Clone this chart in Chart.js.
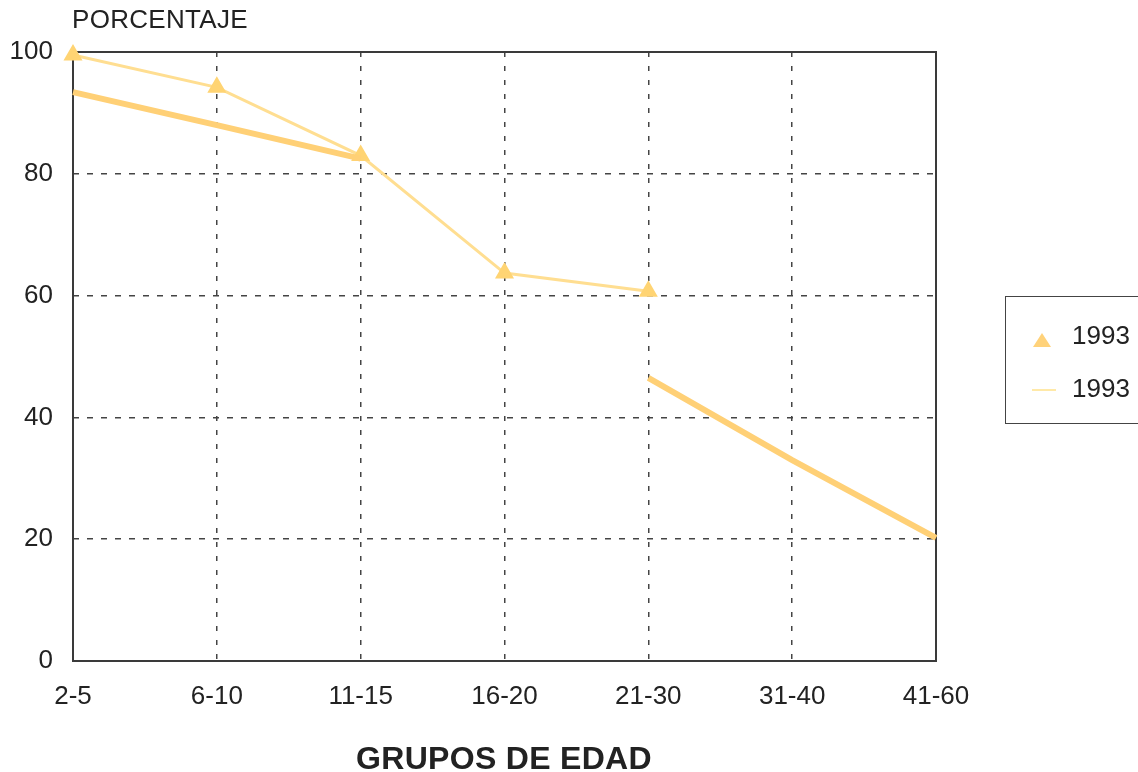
<!DOCTYPE html>
<html><head><meta charset="utf-8">
<script src="https://cdn.jsdelivr.net/npm/chart.js@4/dist/chart.umd.min.js"></script>
<style>
html,body{margin:0;padding:0;background:#fff;}
#wrap{position:relative;width:1138px;height:772px;overflow:hidden;font-family:"Liberation Sans",Arial,sans-serif;color:#222;}
canvas{position:absolute;left:0;top:0;}
.t{position:absolute;white-space:nowrap;}
</style></head>
<body><div id="wrap">
<canvas id="c" width="1138" height="772"></canvas>
<div class="t" id="ytitle" style="left:72px;top:4px;font-size:26px;letter-spacing:0.3px;">PORCENTAJE</div>
<div class="t" id="xtitle" style="left:0;width:1008px;text-align:center;top:740px;font-size:32px;font-weight:bold;letter-spacing:0.3px;">GRUPOS DE EDAD</div>
<div id="legend" style="position:absolute;left:1005px;top:296px;width:150px;height:128px;border:1.5px solid #444;box-sizing:border-box;">
  <div style="position:absolute;left:27px;top:36px;width:0;height:0;border-left:9px solid transparent;border-right:9px solid transparent;border-bottom:14px solid #FFD27A;"></div>
  <div class="t" style="left:66px;top:23px;font-size:26px;">1993</div>
  <div style="position:absolute;left:26px;top:92px;width:24px;height:2px;background:#FFE9A8;"></div>
  <div class="t" style="left:66px;top:76px;font-size:26px;">1993</div>
</div>
</div>
<script>
const categories = ["2-5","6-10","11-15","16-20","21-30","31-40","41-60"];
const seriesMarked = [99.5, 94.2, 83.0, 63.7, 60.7, null, null];
const seriesThick  = [93.4, 88.0, 82.5, null, 46.5, 33.0, 20.2];
const yTicks = [0,20,40,60,80,100];
const legendLabels = ["1993","1993"];

const borderPlugin = {
  id:'box',
  beforeDatasetsDraw(chart){
    const a = chart.chartArea, ctx = chart.ctx;
    ctx.save();
    ctx.strokeStyle = '#3a3a3a';
    ctx.lineWidth = 2;
    ctx.strokeRect(a.left, a.top, a.right - a.left, a.bottom - a.top);
    ctx.restore();
  }
};

new Chart(document.getElementById('c'), {
  type:'line',
  data:{
    labels:categories,
    datasets:[
      {label:legendLabels[1], data:seriesThick, borderColor:'rgb(255,208,118)', borderWidth:6,
       pointRadius:0, spanGaps:false, tension:0, clip:false},
      {label:legendLabels[0], data:seriesMarked, borderColor:'rgb(255,222,145)', borderWidth:3,
       pointStyle:'triangle', pointRadius:8, pointBackgroundColor:'rgb(255,212,115)', pointBorderColor:'rgb(255,212,115)',
       spanGaps:false, tension:0, clip:false}
    ]
  },
  options:{
    responsive:false, animation:false,
    layout:{padding:{left:0,right:202,top:52,bottom:0}},
    plugins:{legend:{display:false}, tooltip:{enabled:false}},
    scales:{
      x:{
        offset:false,
        afterFit(s){ s.height = 111; },
        grid:{color:'#444', lineWidth:1.5, drawTicks:false},
        border:{display:false, dash:[5,9]},
        ticks:{color:'#222', font:{family:'Liberation Sans', size:26}, padding:20, maxRotation:0, autoSkip:false}
      },
      y:{
        min:0, max:100,
        afterFit(s){ s.width = 73; },
        afterBuildTicks(s){ s.ticks = yTicks.map(v=>({value:v})); },
        grid:{color:'#444', lineWidth:1.5, drawTicks:false},
        border:{display:false, dash:[6,8]},
        ticks:{color:'#222', font:{family:'Liberation Sans', size:26}, padding:20}
      }
    }
  },
  plugins:[borderPlugin]
});
</script>
</body></html>
